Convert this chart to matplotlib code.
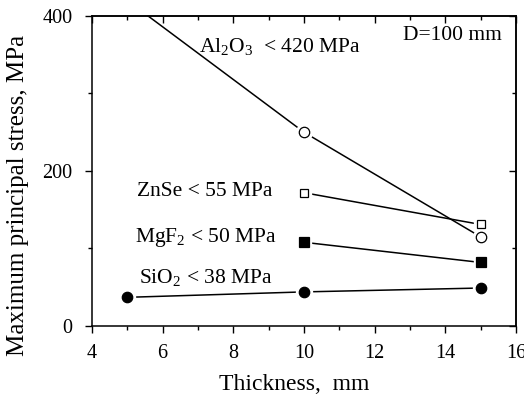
import matplotlib
matplotlib.use('Agg')
import matplotlib.pyplot as plt
from matplotlib.ticker import MultipleLocator, NullFormatter

# stress vs window thickness, D = 100 mm
thickness = [5, 10, 15]
al2o3 = [420, 250, 115]
znse_thk = [10, 15]
znse = [172, 131]
mgf2_thk = [10, 15]
mgf2 = [108, 82]
sio2 = [37, 44, 49]

plt.rcParams['font.family'] = ['Liberation Serif', 'DejaVu Serif']
plt.rcParams['mathtext.fontset'] = 'custom'
plt.rcParams['mathtext.rm'] = 'Liberation Serif'
plt.rcParams['mathtext.it'] = 'Liberation Serif:italic'
plt.rcParams['font.size'] = 14.5

fig = plt.figure(figsize=(5.24, 3.94), dpi=100)
ax = fig.add_axes([0.1756, 0.1726, 0.8091, 0.7868])


def series(x, y, marker, face, size):
    ax.plot(x, y, color='black', lw=1.1, zorder=2)
    # white halo leaves a small gap between line and marker
    ax.plot(x, y, ls='none', marker=marker, ms=size + 4, mfc='white',
            mec='white', zorder=3)
    ax.plot(x, y, ls='none', marker=marker, ms=size, mfc=face,
            mec='black', mew=0.9, zorder=4)


series(thickness, al2o3, 'o', 'white', 7.5)
series(znse_thk, znse, 's', 'white', 6)
series(mgf2_thk, mgf2, 's', 'black', 6.5)
series(thickness, sio2, 'o', 'black', 7.5)

note = 15.5
ax.text(7.03, 354, r'Al$_2$O$_3$  < 420 MPa', va='baseline', fontsize=note)
ax.text(12.79, 369, 'D=100 mm', va='baseline', fontsize=note)
ax.text(5.27, 168, 'ZnSe < 55 MPa', va='baseline', fontsize=note)
ax.text(5.22, 109, r'MgF$_2$ < 50 MPa', va='baseline', fontsize=note)
ax.text(5.33, 56, r'SiO$_2$ < 38 MPa', va='baseline', fontsize=note)

ax.set_xlim(4, 16)
ax.set_ylim(0, 400)
ax.xaxis.set_major_locator(MultipleLocator(2))
ax.xaxis.set_minor_locator(MultipleLocator(1))
ax.yaxis.set_major_locator(MultipleLocator(200))
ax.yaxis.set_minor_locator(MultipleLocator(100))
ax.tick_params(which='major', direction='out', length=5, width=1)
ax.tick_params(which='minor', direction='out', length=3, width=1)
ax.tick_params(axis='x', which='major', pad=8)
ax.tick_params(axis='y', which='major', pad=9)

# inward ticks on top and right
top = ax.secondary_xaxis('top')
top.xaxis.set_major_locator(MultipleLocator(2))
top.xaxis.set_minor_locator(MultipleLocator(1))
top.xaxis.set_major_formatter(NullFormatter())
top.tick_params(which='major', direction='in', length=5, width=1)
top.tick_params(which='minor', direction='in', length=3, width=1)
right = ax.secondary_yaxis('right')
right.yaxis.set_major_locator(MultipleLocator(200))
right.yaxis.set_minor_locator(MultipleLocator(100))
right.yaxis.set_major_formatter(NullFormatter())
right.tick_params(which='major', direction='in', length=5, width=1)
right.tick_params(which='minor', direction='in', length=3, width=1)

for sp in list(ax.spines.values()) + [top.spines['top'], right.spines['right']]:
    sp.set_linewidth(1.1)

fig.text(0.561, 0.0102, 'Thickness,  mm', ha='center', va='baseline',
         fontsize=17)
fig.text(0.034, 0.505, 'Maximum principal stress, MPa', ha='center',
         va='center', rotation=90, fontsize=18)

fig.savefig('out.png', dpi=100)
